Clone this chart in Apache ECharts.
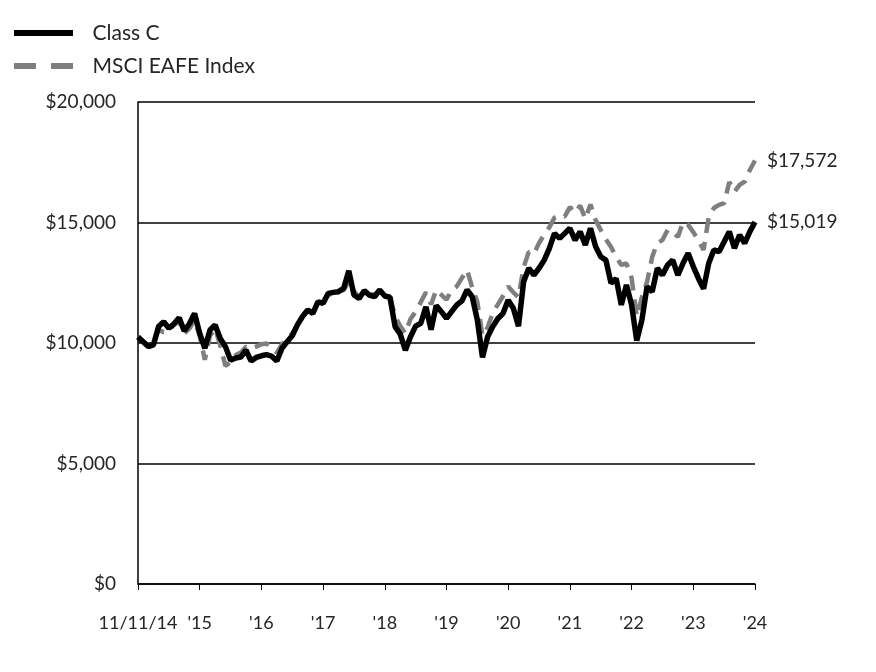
<!DOCTYPE html>
<html>
<head>
<meta charset="utf-8">
<script src="https://cdn.jsdelivr.net/npm/echarts@6/dist/echarts.min.js"></script>
<style>
html,body{margin:0;padding:0;background:#fff;}
#chart{width:876px;height:672px;}
</style>
</head>
<body>
<div id="chart"></div>
<script>
// Month index 0 = 11/11/14, 120 = '24 (monthly values)
const xTickLabels = ["11/11/14", "'15", "'16", "'17", "'18", "'19", "'20", "'21", "'22", "'23", "'24"];
const seriesNames = ["Class C", "MSCI EAFE Index"];
const yTicks = [0, 5000, 10000, 15000, 20000];

const classC = [
  10250, 10050, 9850, 9920, 10680, 10880, 10610, 10800, 11050, 10500,
  10800, 11230, 10400, 9780, 10540, 10750, 10190, 9850, 9290, 9380,
  9420, 9700, 9250, 9400, 9470, 9520, 9450, 9250, 9780, 10050,
  10300, 10750, 11100, 11370, 11230, 11710, 11650, 12060, 12100, 12130,
  12270, 13000, 11990, 11850, 12170, 11990, 11920, 12200, 11950, 11900,
  10680, 10370, 9700, 10260, 10700, 10820, 11500, 10550, 11550, 11300,
  11020, 11300, 11580, 11750, 12200, 11920, 10950, 9400, 10260, 10680,
  11020, 11230, 11780, 11440, 10700, 12540, 13100, 12820, 13100, 13440,
  13930, 14550, 14340, 14550, 14760, 14270, 14620, 14070, 14760, 14000,
  13580, 13440, 12480, 12680, 11580, 12410, 11580, 10100, 10950, 12340,
  12130, 13100, 12820, 13240, 13440, 12820, 13310, 13720, 13170, 12680,
  12250, 13310, 13860, 13790, 14200, 14620, 13930, 14480, 14140, 14620,
  15019
];

const msciEafe = [
  10250, 10050, 9900, 10000, 10550, 10450, 10500, 10750, 10900, 10400,
  10600, 10950, 10300, 9300, 10300, 10600, 9900, 9050, 9200, 9500,
  9600, 9850, 9780, 9850, 9950, 9980, 9800, 9600, 9950, 10150,
  10400, 10750, 11100, 11350, 11300, 11650, 11700, 12000, 12050, 12150,
  12200, 12550, 12150, 11900, 12150, 12050, 12000, 12200, 12000, 11950,
  11100, 10700, 10400, 11000, 11300, 11700, 12100, 11600, 12200, 12000,
  11800, 12200, 12350, 12700, 13030, 12300, 11700, 10300, 10650, 11250,
  11600, 11950, 12350, 12100, 11900, 13150, 13780, 13700, 14150, 14500,
  14800, 15200, 15300, 15250, 15640, 15400, 15700, 15150, 15750, 15100,
  14690, 14300, 13980, 13570, 13240, 13300, 12700, 11100, 11900, 12530,
  13570, 14150, 14270, 14690, 14600, 14400, 15020, 14900, 14600, 14270,
  13860, 15230, 15600, 15730, 15800, 16680, 16270, 16560, 16700, 17180,
  17572
];

const fmtMoney = v => '$' + Math.round(v).toLocaleString('en-US');
const FONT = 'Lato, "Noto Sans", sans-serif';
const TXT = '#262626';

const chart = echarts.init(document.getElementById('chart'), null, {renderer: 'canvas'});
chart.setOption({
  animation: false,
  backgroundColor: '#ffffff',
  grid: {left: 138, right: 121, top: 102, bottom: 88, containLabel: false},
  legend: {
    data: [
      {name: seriesNames[0], icon: 'path://M0,0H59V6H0Z'},
      {name: seriesNames[1], icon: 'path://M0,0H22V6H0Z M37,0H59V6H37Z'}
    ],
    orient: 'vertical',
    left: 9,
    top: 17,
    itemWidth: 60,
    itemHeight: 6,
    itemGap: 11,
    textStyle: {fontFamily: FONT, fontSize: 21, lineHeight: 22, color: TXT, padding: [0, 0, 0, 14]}
  },
  xAxis: {
    type: 'value',
    min: 0,
    max: (xTickLabels.length - 1) * 12,
    interval: 12,
    axisLine: {show: true, lineStyle: {color: '#000', width: 1.5}},
    axisTick: {show: true, length: 6, inside: false, lineStyle: {color: '#000', width: 1}},
    splitLine: {show: false},
    axisLabel: {
      margin: 30,
      fontFamily: FONT, fontSize: 18, color: TXT,
      formatter: v => xTickLabels[Math.round(v / 12)] || ''
    }
  },
  yAxis: {
    type: 'value',
    min: yTicks[0],
    max: yTicks[yTicks.length - 1],
    interval: 5000,
    axisLine: {show: true, lineStyle: {color: '#000', width: 1.5}},
    axisTick: {show: false},
    splitLine: {show: true, lineStyle: {color: '#000', width: 1.5}},
    axisLabel: {
      margin: 22,
      fontFamily: FONT, fontSize: 19, color: TXT,
      formatter: v => fmtMoney(v)
    }
  },
  series: [
    {
      name: seriesNames[1],
      type: 'line',
      data: msciEafe.map((v, i) => [i, v]),
      symbol: 'none',
      z: 2,
      lineStyle: {color: '#7f7f7f', width: 4.5, type: [15, 9]},
      itemStyle: {color: '#7f7f7f'},
      endLabel: {
        show: true, distance: 12,
        fontFamily: FONT, fontSize: 19, color: TXT,
        formatter: p => fmtMoney(p.value[1])
      }
    },
    {
      name: seriesNames[0],
      type: 'line',
      data: classC.map((v, i) => [i, v]),
      symbol: 'none',
      z: 3,
      lineStyle: {color: '#000000', width: 5.5},
      itemStyle: {color: '#000000'},
      endLabel: {
        show: true, distance: 12,
        fontFamily: FONT, fontSize: 19, color: TXT,
        formatter: p => fmtMoney(p.value[1])
      }
    }
  ]
});
</script>
</body>
</html>
